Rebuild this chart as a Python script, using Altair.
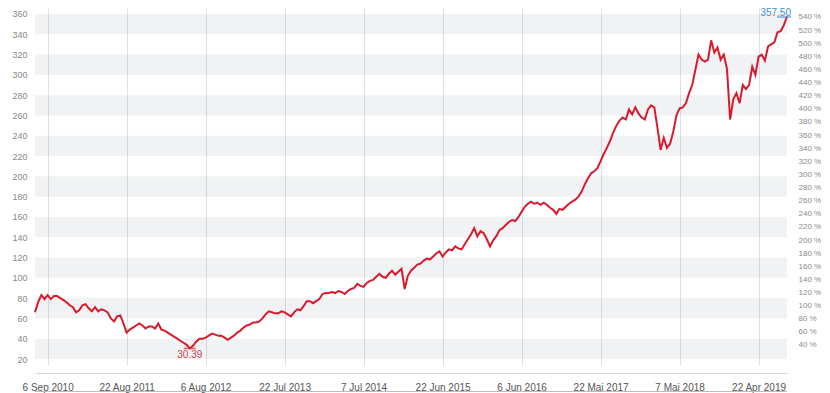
import altair as alt
import pandas as pd

# ---- data (biweekly closes) ----
values = [
    66, 76, 83, 79, 83, 79, 82, 82, 80, 78,
    76, 73, 71, 66, 68, 73, 74, 70, 67, 71,
    67, 69, 68, 66, 60, 57, 62, 63, 55, 46,
    49, 51, 53, 55, 53, 50, 52, 52, 50, 55,
    49, 48, 46, 44, 42, 40, 38, 36, 34, 30.39,
    33, 37, 40, 40, 41, 43, 45, 44, 43, 43,
    41, 39, 41, 43, 46, 48, 51, 53, 54, 56,
    56, 57, 60, 64, 67, 66, 65, 65, 67, 66,
    64, 62, 66, 69, 68, 72, 77, 77, 75, 77,
    79, 84, 85, 85, 86, 85, 87, 86, 84, 87,
    89, 90, 94, 92, 91, 95, 97, 98, 101, 104,
    101, 100, 104, 107, 103, 106, 109, 89, 102, 107,
    110, 113, 114, 117, 119, 118, 121, 124, 126, 121,
    125, 128, 127, 131, 129, 128, 133, 138, 143, 149,
    141, 146, 144, 138, 131, 137, 141, 147, 149, 152,
    155, 157, 156, 160, 165, 170, 173, 175, 173, 174,
    172, 174, 172, 169, 167, 163, 168, 167, 170, 173,
    175, 177, 180, 185, 192, 198, 203, 205, 208, 215,
    222, 228, 235, 243, 250, 255, 258, 256, 266, 261,
    268, 262, 258, 256, 266, 270, 268, 248, 226, 238,
    228, 232, 244, 260, 267, 268, 272, 282, 290, 305,
    320, 315, 313, 315, 334, 322, 327, 315, 320, 306,
    256, 276, 282, 272, 290, 286, 290, 308, 300, 318,
    320, 314, 328, 330, 332, 342, 343, 349, 357.5,
]
dates = pd.date_range("2010-07-12", periods=len(values), freq="14D")

tick_dates = [
    (2010, 9, 6), (2011, 8, 22), (2012, 8, 6), (2013, 7, 22), (2014, 7, 7),
    (2015, 6, 22), (2016, 6, 6), (2017, 5, 22), (2018, 5, 7), (2019, 4, 22),
]
left_ticks = list(range(20, 361, 20))
right_ticks = list(range(40, 561, 20))
band_starts = [20, 60, 100, 140, 180, 220, 260, 300, 340]

# ---- tables ----
df = pd.DataFrame({"date": dates, "price": values})
imin = values.index(min(values))
imax = values.index(max(values))
min_df = df.iloc[[imin]]
max_df = df.iloc[[imax]]
bands_df = pd.DataFrame({
    "y0": band_starts,
    "y1": [b + 20 for b in band_starts],
    "d0": [dates[0]] * len(band_starts),
    "d1": [pd.Timestamp("2019-08-26")] * len(band_starts),
})
pct_df = pd.DataFrame({"pct": [40, 540]})

W, H = 752, 357
FONT = "Liberation Sans"
RED = "#d71a2e"
BLUE = "#3d8fd1"

x_scale = alt.Scale(
    domain=[alt.DateTime(year=2010, month=7, date=12),
            alt.DateTime(year=2019, month=8, date=26)],
    nice=False,
)
y_scale = alt.Scale(domain=[14.09, 365.9], nice=False, zero=False)

x_axis = alt.Axis(
    values=[alt.DateTime(year=y, month=m, date=d) for (y, m, d) in tick_dates],
    labelExpr="replace(timeFormat(datum.value, '%-d %b %Y'), 'May', 'Mai')",
    grid=True, gridColor="#e0e0e0", gridWidth=1,
    ticks=False, domainColor="#ccd6eb", domainWidth=1, offset=8,
    labelPadding=9, labelFontSize=10, labelColor="#555555", labelFont=FONT,
    title=None,
)
y_axis = alt.Axis(
    values=left_ticks, ticks=False, domain=False, grid=False,
    labelPadding=8, labelFontSize=9, labelColor="#888888", labelFont=FONT,
    title=None,
)


def X(field="date:T"):
    return alt.X(field, scale=x_scale, axis=x_axis)


def Y(field="price:Q"):
    return alt.Y(field, scale=y_scale, axis=y_axis)


bands = alt.Chart(bands_df).mark_rect(color="#2a3550", opacity=0.065).encode(
    x=X("d0:T"), x2="d1:T",
    y=Y("y0:Q"), y2="y1:Q",
)

line = alt.Chart(df).mark_line(color=RED, strokeWidth=2).encode(x=X(), y=Y())

min_tick = alt.Chart(min_df).mark_tick(
    orient="horizontal", size=12, thickness=1.5, color=RED
).encode(x=X(), y=Y())
min_text = alt.Chart(min_df).mark_text(
    align="center", baseline="top", dy=2, fontSize=10, font=FONT, color="#c9444f"
).encode(x=X(), y=Y(), text=alt.Text("price:Q", format=".2f"))
max_tick = alt.Chart(max_df).mark_tick(
    orient="horizontal", size=14, thickness=1.5, color=BLUE, xOffset=-3, yOffset=0.5
).encode(x=X(), y=Y())
max_text = alt.Chart(max_df).mark_text(
    align="right", baseline="alphabetic", dx=4, dy=-0.5, fontSize=10, font=FONT, color=BLUE
).encode(x=X(), y=Y(), text=alt.Text("price:Q", format=".2f"))

main = alt.layer(bands, line, min_tick, min_text, max_tick, max_text)

right = alt.Chart(pct_df).mark_point(opacity=0).encode(
    y=alt.Y(
        "pct:Q",
        scale=alt.Scale(domain=[9.5, 553.7], nice=False, zero=False),
        axis=alt.Axis(
            orient="right", values=right_ticks, labelExpr="datum.value + ' %'",
            ticks=False, domain=False, grid=False, labelPadding=11,
            labelFontSize=8, labelColor="#8a8a8a", labelFont=FONT, title=None,
        ),
    )
)

bottom_rule = alt.Chart(pct_df).mark_rule(color="#bdbdbd", strokeWidth=1).encode(
    x=alt.value(0), x2=alt.value(W), y=alt.value(383.5)
)

chart = alt.layer(main, right, bottom_rule).resolve_scale(y="independent").properties(
    width=W, height=H,
    autosize=alt.AutoSizeParams(type="none"),
    padding={"left": 27, "top": 0, "right": 35, "bottom": 28},
    background="white",
).configure_view(stroke=None)

chart.save("out.html", embed_options={"renderer": "svg", "actions": False})
